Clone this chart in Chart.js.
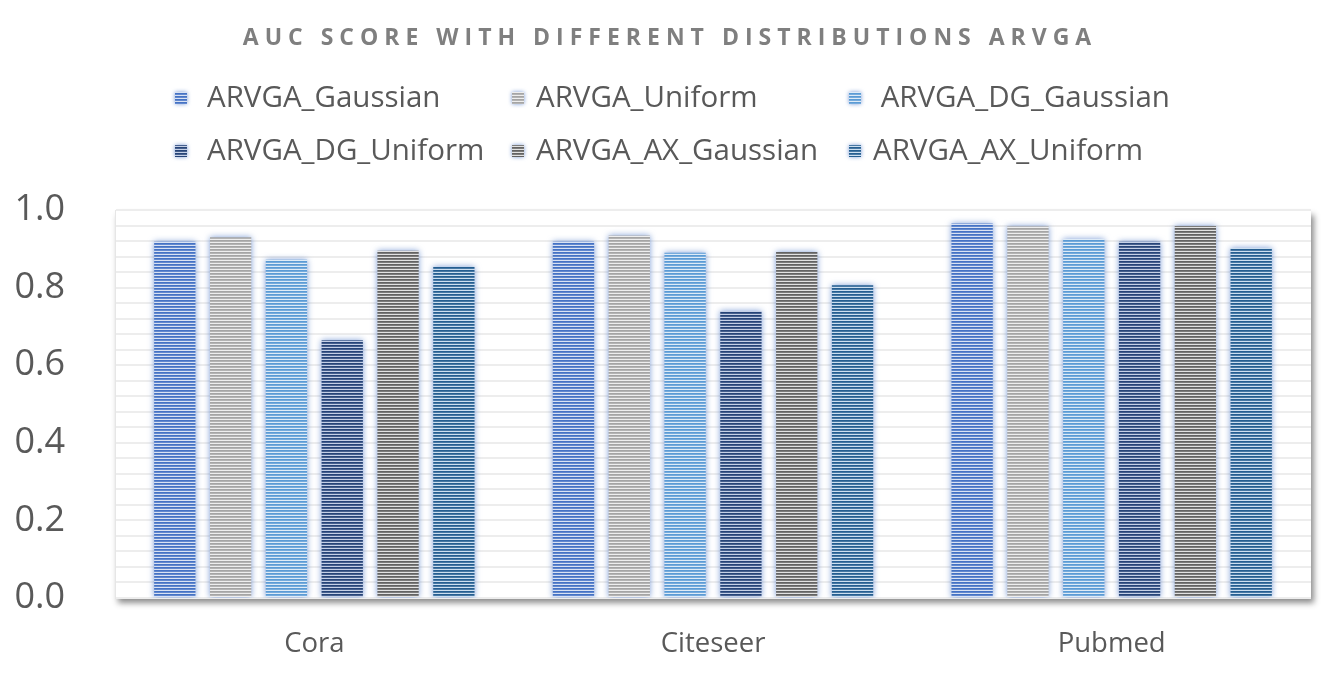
<!DOCTYPE html>
<html>
<head>
<meta charset="utf-8">
<script src="https://cdn.jsdelivr.net/npm/chart.js@4.4.1/dist/chart.umd.min.js"></script>
<style>
    body { margin: 0; background: #fff; }
    #wrap { width: 1334px; height: 675px; position: relative; }
</style>
</head>
<body>
<div id="wrap"><canvas id="chart-bars"></canvas></div>
<script>
// data
var categories = ["Cora", "Citeseer", "Pubmed"];
var seriesNames = ["ARVGA_Gaussian", "ARVGA_Uniform", " ARVGA_DG_Gaussian", "ARVGA_DG_Uniform", "ARVGA_AX_Gaussian", "ARVGA_AX_Uniform"];
var arvgaGaussian = [0.918, 0.918, 0.965];
var arvgaUniform = [0.930, 0.934, 0.958];
var arvgaDgGaussian = [0.872, 0.890, 0.925];
var arvgaDgUniform = [0.664, 0.740, 0.918];
var arvgaAxGaussian = [0.895, 0.892, 0.959];
var arvgaAxUniform = [0.854, 0.806, 0.902];
var yTickLabels = ["0.0", "0.2", "0.4", "0.6", "0.8", "1.0"];
var chartTitle = "AUC SCORE WITH DIFFERENT DISTRIBUTIONS ARVGA";

var seriesValues = [arvgaGaussian, arvgaUniform, arvgaDgGaussian, arvgaDgUniform, arvgaAxGaussian, arvgaAxUniform];

// stripe colours: [line, background]
var stripeColors = [
    ["#4472C4", "#d9e2f3"],
    ["#a5a5a5", "#eeeeee"],
    ["#5b9bd5", "#deebf7"],
    ["#264478", "#c5d0e6"],
    ["#636363", "#e2e2e2"],
    ["#255e91", "#cddff0"]
];

function makeStripes(fg, bg) {
    var c = document.createElement('canvas');
    c.width = 4;
    c.height = 3;
    var g = c.getContext('2d');
    g.fillStyle = bg;
    g.fillRect(0, 0, 4, 3);
    g.fillStyle = fg;
    g.fillRect(0, 0, 4, 1);
    g.globalAlpha = 0.8;
    g.fillRect(0, 1, 4, 1);
    return g.createPattern(c, 'repeat');
}

var patterns = stripeColors.map(function (s) { return makeStripes(s[0], s[1]); });

var datasets = seriesNames.map(function (name, i) {
    return {
        label: name,
        data: seriesValues[i],
        backgroundColor: patterns[i],
        borderWidth: 0,
        barPercentage: 0.74,
        categoryPercentage: 0.84
    };
});

// white plot area with a soft drop shadow
var plotShadow = {
    id: 'plotShadow',
    beforeDraw: function (chart) {
        var a = chart.chartArea, ctx = chart.ctx;
        ctx.save();
        ctx.shadowColor = 'rgba(0,0,0,0.45)';
        ctx.shadowBlur = 6;
        ctx.shadowOffsetX = 3;
        ctx.shadowOffsetY = 5;
        ctx.fillStyle = '#fff';
        ctx.fillRect(a.left, a.top, a.right - a.left, a.bottom - a.top);
        ctx.restore();
    }
};

// blue glow around bars
var barGlow = {
    id: 'barGlow',
    beforeDatasetsDraw: function (chart) {
        var ctx = chart.ctx;
        ctx.save();
        ctx.shadowColor = 'rgba(68,114,196,0.7)';
        ctx.shadowBlur = 6;
    },
    afterDatasetsDraw: function (chart) {
        chart.ctx.restore();
    }
};

// title + legend in a 3 column grid
var headerDraw = {
    id: 'headerDraw',
    afterDraw: function (chart) {
        var ctx = chart.ctx;
        ctx.save();
        ctx.fillStyle = '#7f7f7f';
        ctx.font = 'bold 23px "Open Sans"';
        ctx.textAlign = 'center';
        ctx.textBaseline = 'middle';
        ctx.letterSpacing = '6px';
        ctx.fillText(chartTitle, 670, 38);
        ctx.letterSpacing = '0px';

        var iconX = [175, 512, 849];
        var textX = [207, 536, 873];
        var rowY = [98, 151];
        ctx.font = '29.5px "Open Sans"';
        ctx.textAlign = 'left';
        seriesNames.forEach(function (name, i) {
            var col = i % 3, row = Math.floor(i / 3);
            ctx.save();
            ctx.shadowColor = 'rgba(68,114,196,0.7)';
            ctx.shadowBlur = 4;
            ctx.fillStyle = patterns[i];
            ctx.fillRect(iconX[col], rowY[row] - 6, 12, 12);
            ctx.restore();
            ctx.fillStyle = '#595959';
            ctx.fillText(name, textX[col], rowY[row] + 1);
        });
        ctx.restore();
    }
};

var ctx = document.getElementById("chart-bars").getContext("2d");

new Chart(ctx, {
    type: "bar",
    data: {
        labels: categories,
        datasets: datasets
    },
    plugins: [plotShadow, barGlow, headerDraw],
    options: {
        responsive: true,
        maintainAspectRatio: false,
        animation: false,
        layout: {
            padding: { top: 210, right: 23, left: 0, bottom: 0 }
        },
        plugins: {
            legend: { display: false },
            title: { display: false },
            tooltip: { enabled: false }
        },
        scales: {
            y: {
                min: 0,
                max: 1,
                afterFit: function (scale) { scale.width = 115; },
                grid: {
                    color: '#ededed',
                    lineWidth: 2,
                    drawTicks: false
                },
                border: { display: true, color: '#e6e6e6', width: 1 },
                ticks: {
                    stepSize: 0.04,
                    autoSkip: false,
                    padding: 50,
                    color: '#595959',
                    font: { size: 36, family: "Open Sans" },
                    callback: function (value, index) {
                        return index % 5 === 0 ? yTickLabels[index / 5] : '';
                    }
                }
            },
            x: {
                afterFit: function (scale) { scale.height = 77; },
                grid: { display: false, drawTicks: false },
                border: { display: false },
                ticks: {
                    padding: 30,
                    color: '#595959',
                    font: { size: 27.5, family: "Open Sans" }
                }
            }
        }
    }
});
</script>
</body>
</html>
